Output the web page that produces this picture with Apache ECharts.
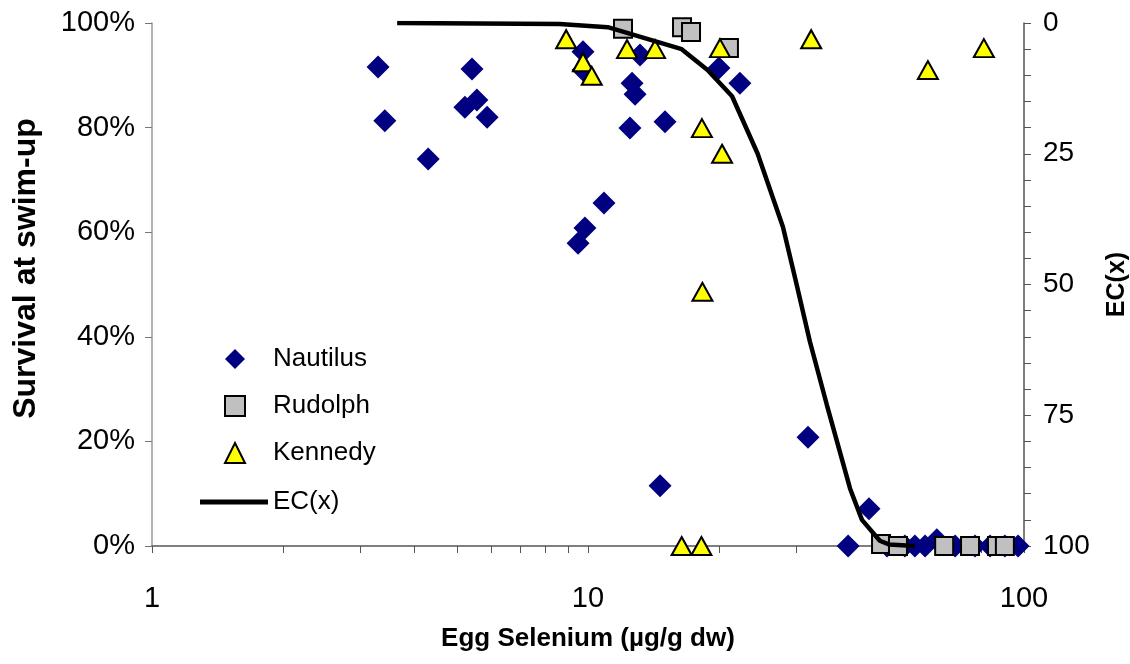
<!DOCTYPE html>
<html>
<head>
<meta charset="utf-8">
<script src="https://cdn.jsdelivr.net/npm/echarts@6/dist/echarts.min.js"></script>
<style>html,body{margin:0;padding:0;background:#fff}#c{width:1130px;height:664px}</style>
</head>
<body>
<div id="c"></div>
<script>
const nautilusX = [3.30, 3.42, 4.30, 5.22, 5.42, 5.56, 5.87, 10.88, 9.84, 9.49, 9.74, 9.74, 13.16, 12.62, 12.82, 12.48, 15.02, 19.97, 22.3, 14.63, 31.96, 44.1, 39.5, 48.5, 53.3, 56.2, 59.3, 63.1, 69.5, 77.2, 83.6, 90.4, 96.9];
const nautilusY = [91.6, 81.3, 74.0, 83.9, 91.2, 85.3, 82.0, 65.6, 60.8, 57.9, 94.5, 91.0, 93.9, 88.5, 86.4, 79.9, 81.1, 91.4, 88.5, 11.5, 20.8, 7.1, 0, 0, 0, 0, 0, 1.2, 0, 0, 0, 0, 0];
const rudolphX = [12.03, 16.43, 17.23, 21.05, 47.0, 51.4, 65.6, 75.2, 86.7, 90.4];
const rudolphY = [98.9, 99.2, 98.3, 95.2, 0.4, 0, 0, 0, 0, 0];
const kennedyX = [8.91, 9.74, 10.2, 12.29, 14.25, 20.08, 18.25, 20.3, 18.3, 16.4, 18.2, 32.5, 60.2, 80.9];
const kennedyY = [96.9, 92.5, 89.9, 95.0, 95.0, 95.2, 79.9, 75.0, 48.6, 0, 0, 96.9, 91.0, 95.2];
const ecX = [3.65, 8.6, 11.1, 16.4, 18.8, 21.4, 24.5, 28.0, 29.9, 32.3, 35.3, 39.9, 42.5, 46.7, 49.0, 56.2];
const ecY = [0, 0.2, 0.8, 5, 9, 14, 25, 39, 49, 61, 73, 89, 95, 99, 99.7, 100];
const leftTicks = [0, 20, 40, 60, 80, 100];
const rightTicks = [0, 25, 50, 75, 100];

const zip = (xs, ys) => xs.map((x, i) => [x, ys[i]]);
const FONT = 'Liberation Sans, Arial, sans-serif';

const chart = echarts.init(document.getElementById('c'));
chart.setOption({
  backgroundColor: '#fff',
  animation: false,
  textStyle: { fontFamily: FONT, color: '#000' },
  grid: { left: 152, right: 106, top: 23, bottom: 118, outerBoundsMode: 'none', containLabel: false },
  legend: [{
    orient: 'vertical', left: 219, top: 341,
    itemWidth: 20, itemHeight: 20, itemGap: 21,
    textStyle: { fontSize: 26, color: '#000', fontFamily: FONT, padding: [0, 0, 0, 23] },
    data: ['Nautilus', 'Rudolph', 'Kennedy']
  }, {
    orient: 'vertical', left: 195, top: 484,
    itemWidth: 68, itemHeight: 5,
    textStyle: { fontSize: 26, color: '#000', fontFamily: FONT },
    data: [{ name: 'EC(x)', icon: 'rect' }]
  }],
  xAxis: {
    type: 'log', logBase: 10, min: 1, max: 100,
    name: 'Egg Selenium (µg/g dw)', nameLocation: 'middle', nameGap: 80,
    nameTextStyle: { fontSize: 26, fontWeight: 'bold', color: '#000', fontFamily: FONT },
    axisLine: { lineStyle: { color: '#555', width: 1.5 } },
    axisTick: { show: true, length: 7, lineStyle: { color: '#555' } },
    minorTick: { show: true, splitNumber: 9, length: 7, lineStyle: { color: '#555' } },
    axisLabel: { fontSize: 29, color: '#000', margin: 38 },
    splitLine: { show: false }
  },
  yAxis: [{
    type: 'value', min: 0, max: 100, interval: 20,
    name: 'Survival at swim-up', nameLocation: 'middle', nameGap: 110, nameRotate: 90,
    nameTextStyle: { fontSize: 32, fontWeight: 'bold', color: '#000', fontFamily: FONT, padding: [0, 0, 0, 32] },
    axisLine: { show: true, lineStyle: { color: '#999', width: 1.5 } },
    axisTick: { show: true, length: 7, lineStyle: { color: '#777' } },
    axisLabel: { fontSize: 29, color: '#000', margin: 17,
      formatter: v => leftTicks.includes(v) ? v + '%' : '' },
    splitLine: { show: false }
  }, {
    type: 'value', min: 0, max: 100, interval: 25, inverse: true, position: 'right',
    name: 'EC(x)', nameLocation: 'middle', nameGap: 81, nameRotate: 90,
    nameTextStyle: { fontSize: 25, fontWeight: 'bold', color: '#000', fontFamily: FONT },
    axisLine: { show: true, lineStyle: { color: '#555', width: 1.5 } },
    axisTick: { show: true, length: 7, lineStyle: { color: '#555' } },
    minorTick: { show: true, splitNumber: 5, length: 7, lineStyle: { color: '#555' } },
    axisLabel: { fontSize: 28, color: '#000', margin: 19,
      formatter: v => rightTicks.includes(v) ? String(v) : '' },
    splitLine: { show: false }
  }],
  series: [{
    name: 'Nautilus', type: 'scatter', symbol: 'diamond', symbolSize: 23,
    itemStyle: { color: '#000080', opacity: 1 },
    data: zip(nautilusX, nautilusY)
  }, {
    name: 'Rudolph', type: 'scatter', symbol: 'rect', symbolSize: 18,
    itemStyle: { color: '#c0c0c0', borderColor: '#000', borderWidth: 2, opacity: 1 },
    data: zip(rudolphX, rudolphY)
  }, {
    name: 'Kennedy', type: 'scatter', symbol: 'triangle', symbolSize: [20, 18],
    itemStyle: { color: '#ffff00', borderColor: '#000', borderWidth: 2, opacity: 1 },
    data: zip(kennedyX, kennedyY)
  }, {
    name: 'EC(x)', type: 'line', yAxisIndex: 1, symbol: 'none', smooth: false,
    lineStyle: { color: '#000', width: 4.5 }, itemStyle: { color: '#000' },
    data: zip(ecX, ecY)
  }]
});
</script>
</body>
</html>
